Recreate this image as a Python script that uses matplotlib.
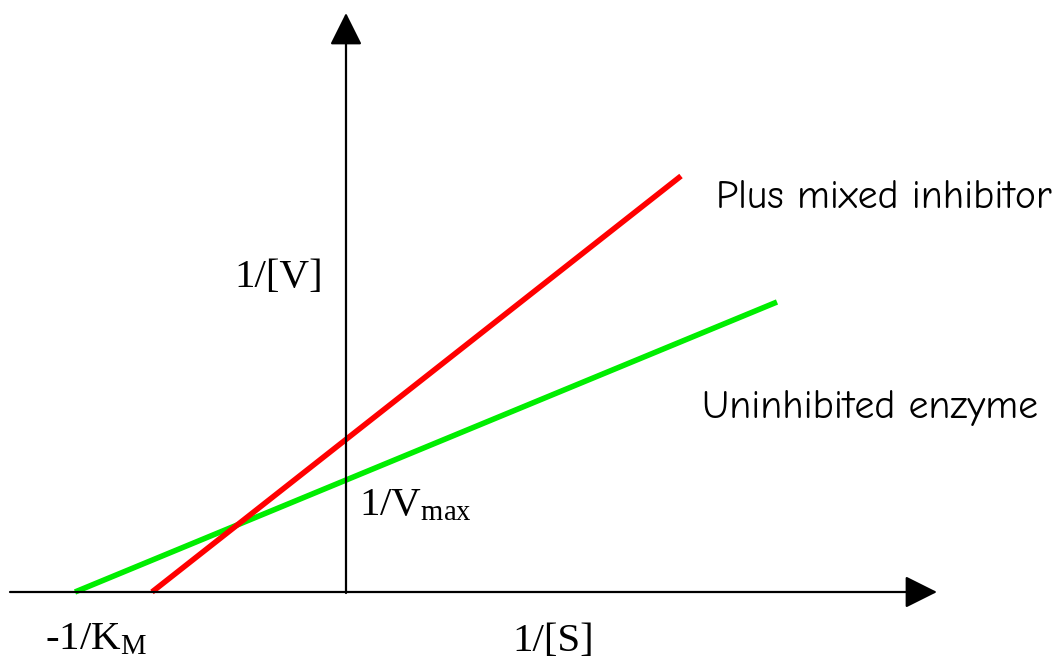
import matplotlib
matplotlib.use("Agg")
import matplotlib.pyplot as plt
import numpy as np

plt.rcParams.update({
    "font.family": "Liberation Serif",
    "mathtext.fontset": "custom",
    "mathtext.rm": "Liberation Serif",
    "mathtext.it": "Liberation Serif",
})

# Lineweaver-Burk lines (arbitrary units, origin at the axes crossing)
uninhib_x = [-2.71, 4.31]
uninhib_y = [0.0, 2.90]
mixed_x = [-1.94, 3.35]
mixed_y = [0.0, 4.16]

# axis extents
x_axis = (-3.36, 5.91)
y_axis = (-0.01, 5.79)

fig = plt.figure(figsize=(10.61, 6.63), dpi=100)
ax = fig.add_axes([0, 0, 1, 1])
ax.set_xlim(-3.46, 7.15)
ax.set_ylim(-0.71, 5.92)
ax.axis("off")

arrow = dict(arrowstyle="-|>,head_length=0.8,head_width=0.4", lw=1.6,
             color="k", mutation_scale=25, shrinkA=0, shrinkB=0)
ax.annotate("", xy=(x_axis[1], 0), xytext=(x_axis[0], 0), arrowprops=arrow)
ax.annotate("", xy=(0, y_axis[1]), xytext=(0, y_axis[0]), arrowprops=arrow)

ax.plot(uninhib_x, uninhib_y, color="#00ee00", lw=4.0, solid_capstyle="butt")
ax.plot(mixed_x, mixed_y, color="#ff0000", lw=4.0, solid_capstyle="butt")

ax.text(-0.225, 3.15, "1/[V]", fontsize=29.5, ha="right", va="center")
ax.text(0.13, 0.86, r"1/V$_{\rm max}$", fontsize=29.5, ha="left", va="center")
ax.text(-2.50, -0.48, r"-1/K$_{\rm M}$", fontsize=29.5, ha="center", va="center")
ax.text(2.07, -0.49, "1/[S]", fontsize=29.5, ha="center", va="center")

side = ["Comic Neue", "DejaVu Sans"]
ax.text(3.70, 3.94, "Plus mixed inhibitor", fontsize=28.5, family=side,
        ha="left", va="center")
ax.text(3.56, 1.84, "Uninhibited enzyme", fontsize=28.5, family=side,
        ha="left", va="center")

fig.savefig("out.png", dpi=100)
